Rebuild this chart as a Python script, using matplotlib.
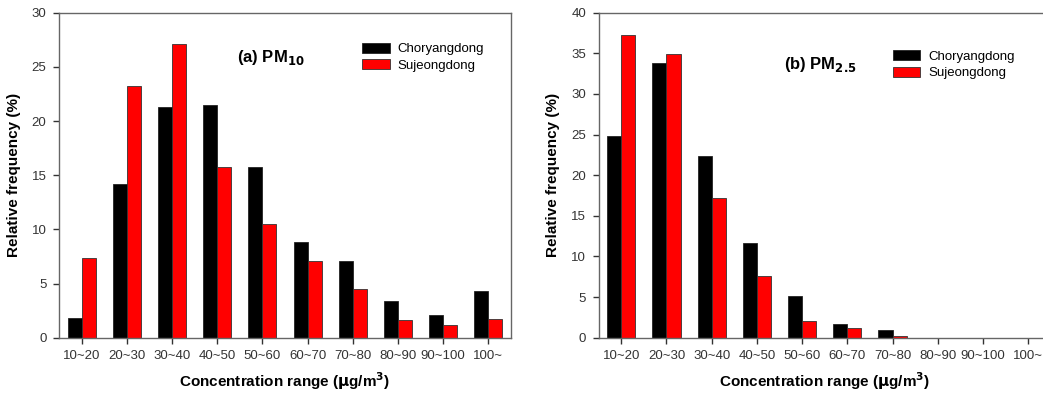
import matplotlib
matplotlib.use('Agg')
import matplotlib.pyplot as plt
import numpy as np

plt.rcParams['font.family'] = ['Liberation Sans', 'DejaVu Sans']

# --- Données ---
categories = ['10~20', '20~30', '30~40', '40~50', '50~60', '60~70', '70~80', '80~90', '90~100', '100~']

pm10_choryang = [1.8, 14.15, 21.25, 21.45, 15.8, 8.8, 7.05, 3.35, 2.1, 4.3]
pm10_sujeong = [7.4, 23.2, 27.1, 15.8, 10.5, 7.05, 4.5, 1.6, 1.15, 1.75]

pm25_choryang = [24.8, 33.8, 22.3, 11.6, 5.15, 1.65, 0.95, 0, 0, 0]
pm25_sujeong = [37.2, 34.95, 17.15, 7.55, 2.0, 1.15, 0.2, 0, 0, 0]

stations = ['Choryangdong', 'Sujeongdong']


def dessiner_panneau(ax, noir, rouge, ymax, titre, pos_titre, pos_leg):
    x = np.arange(len(categories))
    w = 0.31
    ax.bar(x - w / 2, noir, w, color='black', edgecolor='#222222', linewidth=0.6, label=stations[0])
    ax.bar(x + w / 2, rouge, w, color='#ff0000', edgecolor='#333333', linewidth=0.6, label=stations[1])

    ax.set_xlim(-0.5, 9.5)
    ax.set_ylim(0, ymax)
    ax.set_yticks(np.arange(0, ymax + 1, 5))
    ax.set_xticks(x)
    ax.set_xticklabels(categories)
    ax.tick_params(direction='out', length=4, width=1, color='#333333',
                   labelsize=9.5, labelcolor='#333333', pad=5)
    for s in ax.spines.values():
        s.set_color('#666666')
        s.set_linewidth(1)

    ax.set_ylabel('Relative frequency (%)', fontsize=11, fontweight='bold', labelpad=8)
    ax.set_xlabel(r'Concentration range ($\mathbf{\mu}$g/m$^\mathbf{3}$)', fontsize=11,
                  fontweight='bold', labelpad=6)
    ax.text(pos_titre[0], pos_titre[1], titre, transform=ax.transAxes, fontsize=12,
            fontweight='bold', ha='left', va='center')

    ax.legend(loc='upper left', bbox_to_anchor=pos_leg, frameon=False, fontsize=9.5,
              handlelength=2.1, handleheight=0.8, handletextpad=0.6, labelspacing=0.3,
              borderaxespad=0, borderpad=0)


fig = plt.figure(figsize=(10.43, 3.95), dpi=100)
ax1 = fig.add_axes([0.0566, 0.145, 0.4333, 0.823])
ax2 = fig.add_axes([0.574, 0.145, 0.4334, 0.823])

dessiner_panneau(ax1, pm10_choryang, pm10_sujeong, 30, r'(a) PM$_{\mathbf{10}}$', (0.393, 0.862), (0.67, 0.908))
dessiner_panneau(ax2, pm25_choryang, pm25_sujeong, 40, r'(b) PM$_{\mathbf{2.5}}$', (0.41, 0.84), (0.65, 0.885))

fig.savefig('out.png', dpi=100)
